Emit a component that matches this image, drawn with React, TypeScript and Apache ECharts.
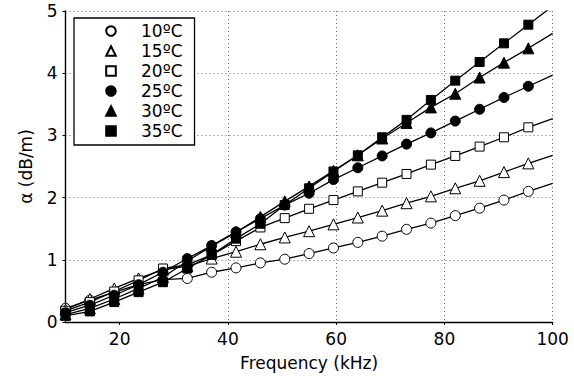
import React, { useEffect, useRef } from "react";
import * as echarts from "echarts";

const freqs = [10, 14.5, 19, 23.5, 28, 32.5, 37, 41.5, 46, 50.5, 55, 59.5, 64, 68.5, 73, 77.5, 82, 86.5, 91, 95.5];
const lineEndFreq = 100;

const names = ["10ºC", "15ºC", "20ºC", "25ºC", "30ºC", "35ºC"];

const t10 = [0.22, 0.35, 0.48, 0.6, 0.68, 0.7, 0.8, 0.87, 0.95, 1.01, 1.1, 1.19, 1.28, 1.38, 1.49, 1.59, 1.71, 1.83, 1.96, 2.1];
const t15 = [0.2, 0.37, 0.54, 0.7, 0.84, 0.9, 1.02, 1.13, 1.25, 1.36, 1.46, 1.57, 1.68, 1.79, 1.91, 2.02, 2.15, 2.27, 2.41, 2.55];
const t20 = [0.18, 0.32, 0.49, 0.67, 0.86, 0.92, 1.08, 1.3, 1.52, 1.67, 1.82, 1.96, 2.1, 2.24, 2.38, 2.53, 2.67, 2.82, 2.97, 3.13];
const t25 = [0.15, 0.27, 0.43, 0.6, 0.8, 1.02, 1.23, 1.45, 1.66, 1.88, 2.07, 2.29, 2.48, 2.67, 2.86, 3.04, 3.23, 3.42, 3.61, 3.79];
const t30 = [0.12, 0.22, 0.37, 0.54, 0.72, 0.98, 1.22, 1.44, 1.69, 1.94, 2.18, 2.43, 2.68, 2.95, 3.2, 3.45, 3.67, 3.93, 4.17, 4.4];
const t35 = [0.1, 0.17, 0.32, 0.48, 0.64, 0.86, 1.08, 1.34, 1.58, 1.88, 2.15, 2.42, 2.68, 2.97, 3.25, 3.57, 3.88, 4.18, 4.48, 4.78];
const endValues = [2.23, 2.68, 3.27, 3.97, 4.64, 5.08];

const seriesValues = [t10, t15, t20, t25, t30, t35];
const symbols = ["circle", "triangle", "rect", "circle", "triangle", "rect"];
const symbolSizes = [10, 11, 9, 10, 11, 9];
const filled = [false, false, false, true, true, true];

const xTicks = [20, 40, 60, 80, 100];

const FONT = "DejaVu Sans";

export default function App() {
  const ref = useRef<HTMLDivElement>(null);
  useEffect(() => {
    if (!ref.current) return;
    const chart = echarts.init(ref.current, null, { renderer: "svg" });
    const series = seriesValues.map((vals, si) => {
      const data: any[] = vals.map((v, i) => [freqs[i], v]);
      data.push({ value: [lineEndFreq, endValues[si]], symbol: "none" });
      return {
        name: names[si],
        type: "line",
        data,
        clip: true,
        symbol: symbols[si],
        symbolSize: symbolSizes[si],
        showSymbol: true,
        lineStyle: { color: "#000", width: 1.3 },
        itemStyle: {
          color: filled[si] ? "#000" : "#fff",
          borderColor: "#000",
          borderWidth: 1,
        },
        emphasis: { disabled: true },
        z: 2 + si,
      };
    });
    chart.setOption({
      animation: false,
      backgroundColor: "#fff",
      grid: { left: 65.5, right: 21.3, top: 11, bottom: 45.5, containLabel: false },
      legend: {
        orient: "vertical",
        left: 74,
        top: 18,
        data: names,
        itemWidth: 50,
        itemHeight: 12,
        itemGap: 0,
        padding: [3, 12, 4, 11],
        borderColor: "#000",
        borderWidth: 1.3,
        backgroundColor: "#fff",
        lineStyle: { opacity: 0 },
        selectedMode: false,
        textStyle: { fontFamily: FONT, fontSize: 17, color: "#000", lineHeight: 20 },
        z: 20,
      },
      xAxis: {
        type: "value",
        min: 10,
        max: 100,
        interval: 10,
        name: "Frequency (kHz)",
        nameLocation: "middle",
        nameGap: 32,
        nameTextStyle: { fontFamily: FONT, fontSize: 17, color: "#000" },
        axisLine: { show: true, onZero: false, lineStyle: { color: "#000", width: 1.4 } },
        axisTick: {
          show: true,
          length: 3,
          lineStyle: { color: "#000" },
          customValues: xTicks,
        },
        axisLabel: {
          fontFamily: FONT,
          fontSize: 17,
          color: "#000",
          margin: 8,
          customValues: xTicks,
        },
        splitLine: {
          show: true,
          lineStyle: { type: [1, 3], color: "#666", width: 1 },
          showMinLine: false,
        },
      },
      yAxis: {
        type: "value",
        min: 0,
        max: 5,
        interval: 1,
        name: "α (dB/m)",
        nameLocation: "middle",
        nameGap: 31,
        nameTextStyle: { fontFamily: FONT, fontSize: 17, color: "#000" },
        axisLine: { show: true, lineStyle: { color: "#000", width: 1.4 } },
        axisTick: { show: true, length: 3, lineStyle: { color: "#000" } },
        axisLabel: { fontFamily: FONT, fontSize: 17, color: "#000", margin: 8 },
        splitLine: {
          show: true,
          lineStyle: { type: [1, 3], color: "#666", width: 1 },
          showMinLine: false,
        },
      },
      series,
    });
    return () => chart.dispose();
  }, []);
  return (
    <div
      ref={ref}
      style={{ position: "fixed", left: 0, top: 0, width: 574, height: 376, background: "#fff" }}
    />
  );
}
